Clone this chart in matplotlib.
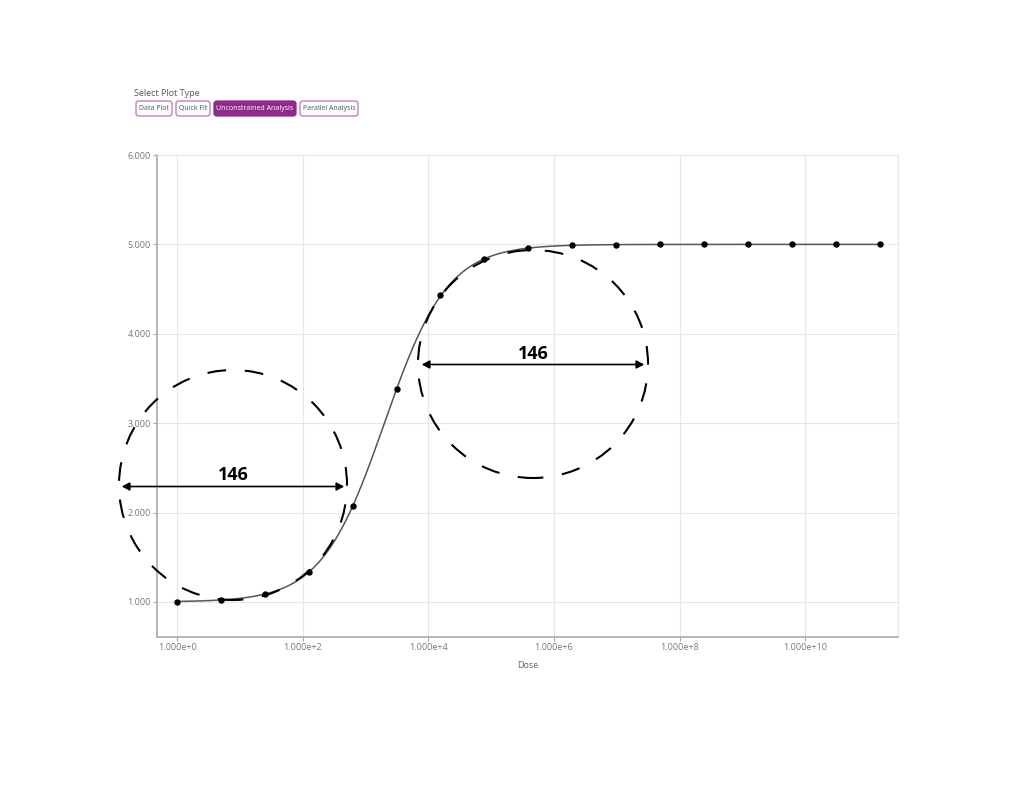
import matplotlib
matplotlib.use('Agg')
import matplotlib.pyplot as plt
import numpy as np
from matplotlib.patches import Ellipse, FancyBboxPatch, FancyArrowPatch

plt.rcParams['font.family'] = ['Open Sans', 'DejaVu Sans']

# data
dose = [1, 5, 25, 125, 625, 3125, 15625, 78125, 390625, 1953125, 9765625,
        48828125, 244140625, 1220703125, 6103515625, 30517578125, 152587890625]
response = [1.005, 1.02, 1.09, 1.33, 2.07, 3.385, 4.435, 4.84, 4.965, 4.99,
            4.998, 5.0, 5.0, 5.0, 5.0, 5.0, 5.0]

# fitted 4PL parameters (unconstrained fit)
fit_bottom = 1.0
fit_top = 5.0
fit_ec50 = 2000.0
fit_hill = 0.865

buttons = ['Data Plot', 'Quick Fit', 'Unconstrained Analysis', 'Parallel Analysis']
active_button = 'Unconstrained Analysis'
x_ticks = [1e0, 1e2, 1e4, 1e6, 1e8, 1e10]
y_ticks = [1, 2, 3, 4, 5, 6]
width_label = '146'

W, H = 1024, 785
fig = plt.figure(figsize=(W/100, H/100), dpi=100)

def fx(px):
    return px / W

def fy(py):
    return 1 - py / H

ax = fig.add_axes([fx(157), fy(637), fx(898) - fx(157), fy(155) - fy(637)])

xc = np.logspace(0, np.log10(dose[-1]), 400)
yc = fit_bottom + (fit_top - fit_bottom) / (1 + (fit_ec50 / xc) ** fit_hill)
ax.plot(xc, yc, color='#555555', lw=1.1, zorder=3)
ax.plot(dose, response, 'o', color='black', ms=3.6, zorder=4)

ax.set_xscale('log')
ax.set_xlim(0.48, 3.0e11)
ax.set_ylim(0.608, 6.0)
ax.set_xticks(x_ticks)
ax.set_xticklabels(['%.3fe+%d' % (1.0, int(np.log10(t))) for t in x_ticks])
ax.xaxis.set_minor_locator(matplotlib.ticker.NullLocator())
ax.set_yticks(y_ticks)
ax.set_yticklabels(['%.3f' % v for v in y_ticks])
ax.tick_params(axis='both', labelsize=6.5, colors='#aaaaaa', labelcolor='#777777',
               length=3, width=0.8, pad=1.5)
ax.grid(True, color='#e6e6e6', lw=0.8)
ax.set_axisbelow(True)
for s in ['top', 'right']:
    ax.spines[s].set_color('#e6e6e6')
    ax.spines[s].set_linewidth(0.8)
for s in ['left', 'bottom']:
    ax.spines[s].set_color('#aaaaaa')
    ax.spines[s].set_linewidth(1.2)
ax.set_xlabel('Dose', fontsize=6.5, color='#666666', labelpad=6)

# plot type selector
fig.text(fx(134), fy(93), 'Select Plot Type', fontsize=6.5, color='#555555',
         va='center', ha='left')
btn_x = [136, 176, 214, 300]
btn_w = [36, 34, 82, 58]
for b, bx, bw in zip(buttons, btn_x, btn_w):
    on = b == active_button
    box = FancyBboxPatch((fx(bx), fy(116)), fx(bw), fy(101) - fy(116),
                         boxstyle='round,pad=0,rounding_size=0.003',
                         transform=fig.transFigure,
                         facecolor='#8e2a8b' if on else 'white',
                         edgecolor='#8e2a8b' if on else '#c070b8', lw=0.9)
    fig.add_artist(box)
    fig.text(fx(bx + bw / 2), fy(108.5), b, fontsize=5, ha='center', va='center',
             color='white' if on else '#555555')

# dashed circles and width annotations
circles = [(233, 485, 228, 230), (533, 364, 230, 228)]
arrows = [(119, 347, 486.5, 475), (419, 647, 364.5, 354)]
for (cx, cy, cw, ch), (x0, x1, ay, ty) in zip(circles, arrows):
    e = Ellipse((fx(cx), fy(cy)), fx(cw), ch / H, transform=fig.transFigure,
                fill=False, edgecolor='black', lw=1.5, linestyle=(4, (9, 9)),
                zorder=5)
    fig.add_artist(e)
    fig.add_artist(FancyArrowPatch(
        (fx(x0), fy(ay)), (fx(x1), fy(ay)), transform=fig.transFigure,
        arrowstyle='<|-|>,head_length=3,head_width=1.6', mutation_scale=1.5,
        color='black', lw=1.2, zorder=6))
    fig.text(fx((x0 + x1) / 2), fy(ty), width_label, fontsize=13,
             fontweight='bold', ha='center', va='center', zorder=6)

fig.savefig('out.png', dpi=100, facecolor='white')
